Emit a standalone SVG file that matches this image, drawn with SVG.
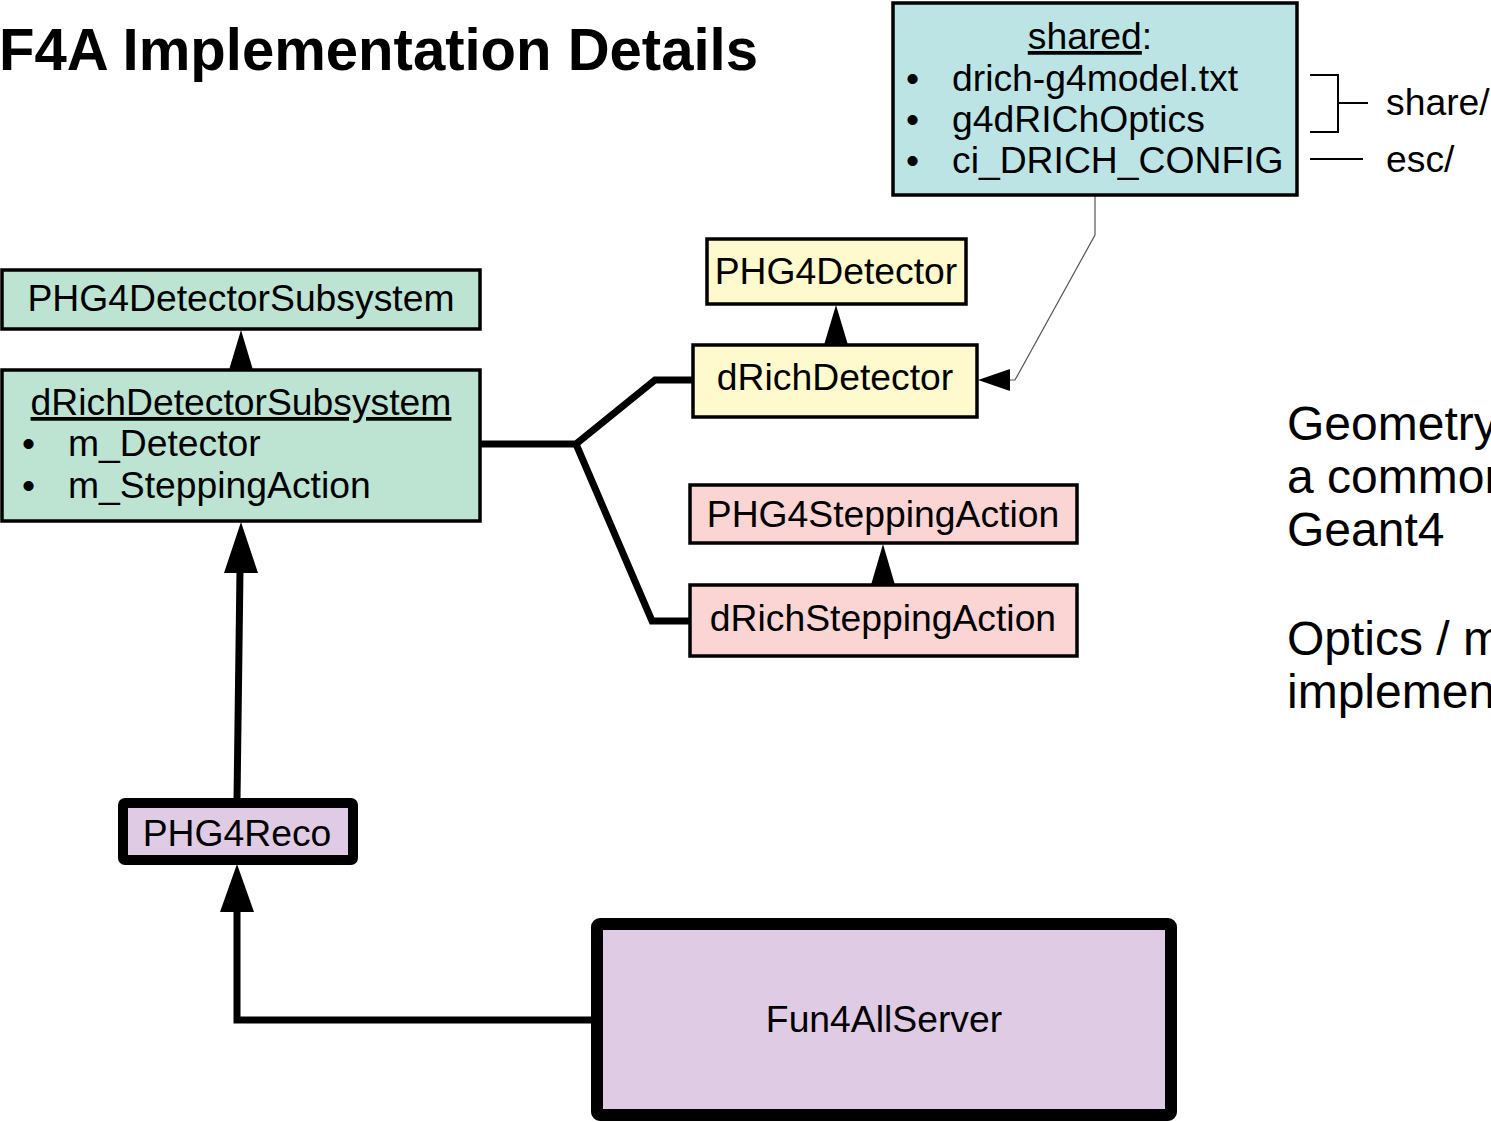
<svg xmlns="http://www.w3.org/2000/svg" width="1491" height="1122" viewBox="0 0 1491 1122">
<style>
text{font-family:"Liberation Sans",Arial,sans-serif;fill:#000}
.t{font-size:37.3px}
.c{text-anchor:middle}
.box{stroke:#000;stroke-width:3.5}
.thick{fill:none;stroke:#000;stroke-width:7;stroke-linejoin:miter}
.thin{fill:none;stroke:#000;stroke-width:2}
.big{font-size:48px}
</style>
<rect width="1491" height="1122" fill="#fff"/>
<text x="-1" y="70" font-size="60" font-weight="bold" textLength="759" lengthAdjust="spacingAndGlyphs">F4A Implementation Details</text>

<g id="connectors">
  <polyline class="thick" points="480,444 576,444 655,380 693,380"/>
  <polyline class="thick" points="576,444 652,621 690,621"/>
  <polygon points="836,305 824,345 848,345"/>
  <polygon points="241,330 229,370 253,370"/>
  <polygon points="883,544 871,585 895,585"/>
  <line x1="237" y1="800" x2="240" y2="570" stroke="#000" stroke-width="7"/>
  <polygon points="241,522 224,573 258,573"/>
  <polyline class="thick" points="596,1020 237,1020 237,908"/>
  <polygon points="237,864 220,912 254,912"/>
  <polyline fill="none" stroke="#555" stroke-width="1.2" points="1095,195 1095,235 1015,380 1008,380"/>
  <polygon points="978,380 1010,369 1010,391"/>
</g>

<g id="shared">
  <rect class="box" x="893" y="3" width="404" height="192" fill="#bce4e4"/>
  <text class="t c" x="1090" y="49"><tspan text-decoration="underline">shared</tspan>:</text>
  <text class="t" x="906" y="91">•</text><text class="t" x="952" y="91">drich-g4model.txt</text>
  <text class="t" x="906" y="132">•</text><text class="t" x="952" y="132">g4dRIChOptics</text>
  <text class="t" x="906" y="173">•</text><text class="t" x="952" y="173">ci_DRICH_CONFIG</text>
</g>

<g id="dirs">
  <polyline class="thin" points="1310,75 1338,75 1338,132 1310,132"/>
  <line class="thin" x1="1338" y1="103" x2="1368" y2="103"/>
  <line class="thin" x1="1310" y1="159" x2="1363" y2="159"/>
  <text class="t" x="1386" y="115">share/</text>
  <text class="t" x="1386" y="172">esc/</text>
</g>

<g id="PHG4Detector">
  <rect class="box" x="707" y="239" width="259" height="65" fill="#fffacd"/>
  <text class="t c" x="836" y="284">PHG4Detector</text>
</g>
<g id="dRichDetector">
  <rect class="box" x="693" y="345" width="284" height="72" fill="#fffacd"/>
  <text class="t c" x="835" y="390">dRichDetector</text>
</g>

<g id="PHG4DetectorSubsystem">
  <rect class="box" x="2" y="270" width="478" height="59" fill="#bde3d3"/>
  <text class="t c" x="241" y="311">PHG4DetectorSubsystem</text>
</g>
<g id="dRichDetectorSubsystem">
  <rect class="box" x="2" y="370" width="478" height="151" fill="#bde3d3"/>
  <text class="t c" x="241" y="415" text-decoration="underline">dRichDetectorSubsystem</text>
  <text class="t" x="22" y="456">•</text><text class="t" x="68" y="456">m_Detector</text>
  <text class="t" x="22" y="498">•</text><text class="t" x="68" y="498">m_SteppingAction</text>
</g>

<g id="PHG4SteppingAction">
  <rect class="box" x="690" y="485" width="387" height="58" fill="#fbd5d3"/>
  <text class="t c" x="883" y="527">PHG4SteppingAction</text>
</g>
<g id="dRichSteppingAction">
  <rect class="box" x="690" y="585" width="387" height="71" fill="#fbd5d3"/>
  <text class="t c" x="883" y="631">dRichSteppingAction</text>
</g>

<g id="PHG4Reco">
  <rect x="123" y="803" width="230" height="57" rx="2" fill="#dfcbe3" stroke="#000" stroke-width="10"/>
  <text class="t c" x="237" y="846">PHG4Reco</text>
</g>
<g id="Fun4AllServer">
  <rect x="597" y="924" width="574" height="191" rx="3" fill="#dfcbe3" stroke="#000" stroke-width="12"/>
  <text class="t c" x="884" y="1032">Fun4AllServer</text>
</g>

<g id="notes">
  <text class="big" x="1287" y="440">Geometry</text>
  <text class="big" x="1287" y="493">a common</text>
  <text class="big" x="1287" y="546">Geant4</text>
  <text class="big" x="1287" y="655">Optics / m</text>
  <text class="big" x="1287" y="708">implemen</text>
</g>
</svg>
